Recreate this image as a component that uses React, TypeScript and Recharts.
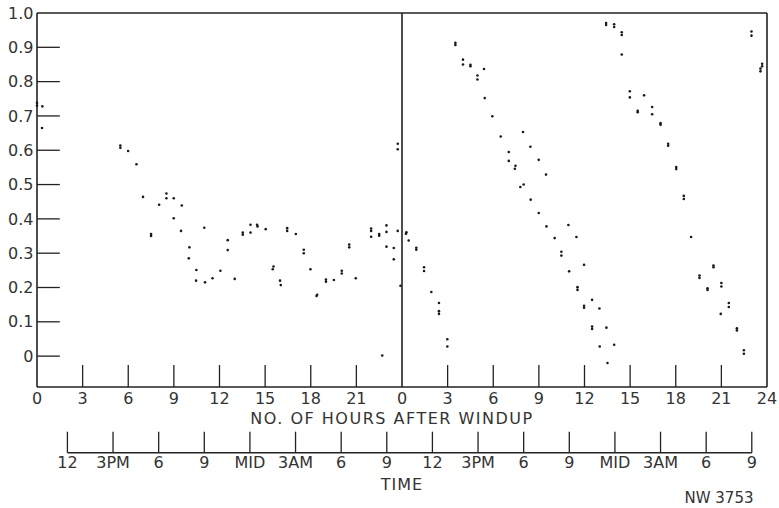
import React from 'react'
import { ScatterChart, Scatter, XAxis, YAxis, ReferenceLine } from 'recharts'

// first 24 h after windup (left panel)
const day1Hours = [
  0, 0, 0.35, 0.33, 5.48, 5.48, 5.99, 6.54, 6.97, 7.5, 7.5, 8.03, 8.51, 8.51, 8.99, 8.99,
  9.52, 9.47, 10.02, 9.98, 10.48, 10.46, 11.0, 11.05, 11.54, 12.06, 12.54, 12.54, 13.0,
  13.53, 13.53, 14.04, 14.04, 14.47, 14.5, 15.04, 15.55, 15.5, 15.98, 16.03, 16.45, 16.45,
  17.02, 17.54, 17.54, 17.98, 18.42, 18.38, 19.0, 19.0, 19.52, 20.04, 20.04, 20.53, 20.53,
  20.96, 21.97, 21.97, 21.97, 22.5, 22.5, 22.98, 22.98, 22.98, 23.46, 23.46, 23.72, 23.72,
  23.72, 22.7, 23.9,
]
const day1Values = [
  0.738, 0.73, 0.728, 0.665, 0.614, 0.607, 0.598, 0.559, 0.464, 0.356, 0.35, 0.441, 0.474,
  0.46, 0.46, 0.402, 0.439, 0.365, 0.317, 0.285, 0.251, 0.22, 0.374, 0.215, 0.227, 0.249,
  0.338, 0.309, 0.225, 0.36, 0.354, 0.383, 0.36, 0.383, 0.378, 0.37, 0.261, 0.253, 0.22,
  0.207, 0.373, 0.365, 0.356, 0.31, 0.3, 0.253, 0.179, 0.175, 0.223, 0.217, 0.222, 0.249,
  0.241, 0.325, 0.317, 0.227, 0.372, 0.365, 0.348, 0.356, 0.351, 0.381, 0.362, 0.319, 0.315,
  0.282, 0.365, 0.619, 0.603, 0.002, 0.205,
]

// second 24 h (right panel)
const day2Hours = [
  0.29, 0.26, 0.44, 0.94, 0.94, 1.45, 1.45, 1.93, 2.43, 2.43, 2.43, 2.98, 2.98, 3.51, 3.51,
  4.01, 4.01, 4.5, 4.5, 5.39, 4.96, 4.96, 5.44, 5.94, 6.49, 7.02, 7.02, 7.46, 7.42, 7.96,
  8.44, 8.99, 9.47, 8.0, 7.78, 8.46, 8.99, 9.5, 10.04, 10.94, 11.47, 10.48, 10.48, 10.99,
  11.97, 11.54, 11.54, 11.97, 11.97, 12.5, 12.98, 12.5, 12.5, 13.44, 13.0, 13.95, 13.51,
  13.42, 13.42, 13.95, 13.95, 14.45, 14.45, 14.45, 14.98, 14.98, 15.92, 15.5, 15.5, 16.45,
  16.45, 17.0, 17.0, 17.5, 17.5, 18.03, 18.03, 18.53, 18.53, 19.01, 19.56, 19.56, 20.48,
  20.48, 20.09, 20.09, 21.0, 21.0, 21.49, 21.49, 20.96, 22.02, 22.02, 22.48, 22.48, 22.98,
  22.98, 23.57, 23.57, 23.68, 23.68,
]
const day2Values = [
  0.361, 0.357, 0.337, 0.316, 0.31, 0.259, 0.248, 0.187, 0.155, 0.131, 0.123, 0.049, 0.028,
  0.913, 0.907, 0.864, 0.85, 0.849, 0.845, 0.837, 0.818, 0.806, 0.752, 0.699, 0.64, 0.595,
  0.569, 0.555, 0.546, 0.653, 0.61, 0.572, 0.529, 0.5, 0.493, 0.456, 0.417, 0.378, 0.344,
  0.382, 0.347, 0.304, 0.293, 0.247, 0.266, 0.201, 0.193, 0.147, 0.141, 0.164, 0.139, 0.086,
  0.079, 0.083, 0.028, 0.033, -0.02, 0.971, 0.965, 0.967, 0.959, 0.944, 0.936, 0.879, 0.772,
  0.754, 0.76, 0.715, 0.711, 0.726, 0.705, 0.679, 0.674, 0.619, 0.613, 0.551, 0.545, 0.467,
  0.458, 0.347, 0.235, 0.228, 0.264, 0.259, 0.198, 0.193, 0.213, 0.203, 0.155, 0.143, 0.123,
  0.081, 0.075, 0.017, 0.007, 0.946, 0.934, 0.838, 0.83, 0.852, 0.845,
]

const hourTicks = [0, 3, 6, 9, 12, 15, 18, 21, 24, 27, 30, 33, 36, 39, 42, 45, 48]
const valueTicks = [0, 0.1, 0.2, 0.3, 0.4, 0.5, 0.6, 0.7, 0.8, 0.9, 1.0]
const timeTicks = [2, 5, 8, 11, 14, 17, 20, 23, 26, 29, 32, 35, 38, 41, 44, 47]
const timeLabels = ['12', '3PM', '6', '9', 'MID', '3AM', '6', '9', '12', '3PM', '6', '9', 'MID', '3AM', '6', '9']

const points = [
  ...day1Hours.map((h, i) => ({ hour: h, value: day1Values[i] })),
  ...day2Hours.map((h, i) => ({ hour: h + 24, value: day2Values[i] })),
]

const ink = '#222'
const font = { fontSize: 16, fill: '#333', fontFamily: 'DejaVu Sans' }
const Y_BOTTOM = -0.09
const TIME_LINE = -0.2816
const TIME_TICK_TOP = -0.2203

const Dot = (props: any) => <circle cx={props.cx} cy={props.cy} r={1.3} fill="#1a1a1a" />

export default function App() {
  const textStyle: React.CSSProperties = {
    position: 'absolute',
    fontFamily: 'DejaVu Sans',
    fontSize: 16,
    lineHeight: '16px',
    color: '#333',
    whiteSpace: 'nowrap',
    transform: 'translateX(-50%)',
  }
  return (
    <div style={{ position: 'absolute', left: 0, top: 0, width: 779, height: 508, background: '#fff' }}>
      <ScatterChart width={779} height={508} margin={{ top: 13, right: 12, bottom: 26, left: 0 }}>
        <XAxis
          type="number"
          dataKey="hour"
          domain={[0, 48]}
          ticks={hourTicks}
          interval={0}
          tickFormatter={(v: number) => (v === 48 ? '24' : String(v % 24))}
          height={65}
          tickSize={4}
          tickMargin={2}
          tickLine={false}
          axisLine={{ stroke: ink, strokeWidth: 1.6 }}
          tick={font}
        />
        {/* clock-time labels; no series uses this axis, so its domain is fixed */}
        <XAxis
          xAxisId="time"
          type="number"
          dataKey="hour"
          domain={[0, 48]}
          allowDataOverflow
          ticks={timeTicks}
          interval={0}
          tickFormatter={(v: number) => timeLabels[timeTicks.indexOf(v)]}
          height={30}
          tickSize={4}
          tickMargin={1}
          tickLine={false}
          axisLine={false}
          tick={font}
        />
        <YAxis
          type="number"
          dataKey="value"
          domain={[Y_BOTTOM, 1]}
          ticks={valueTicks}
          interval={0}
          tickFormatter={(v: number) => (v === 0 ? '0' : v.toFixed(1))}
          width={37}
          tickSize={1}
          tickMargin={2.5}
          tickLine={false}
          axisLine={{ stroke: ink, strokeWidth: 1.6 }}
          tick={font}
        />

        {/* frame and divider between the two days */}
        <ReferenceLine y={1} stroke={ink} strokeWidth={1.6} />
        <ReferenceLine x={48} stroke={ink} strokeWidth={1.6} />
        <ReferenceLine x={24} stroke={ink} strokeWidth={1.6} />

        {/* inward tick marks */}
        {valueTicks.slice(0, 10).map((v) => (
          <ReferenceLine key={'y' + v} segment={[{ x: 0, y: v }, { x: 1.5, y: v }]} stroke={ink} strokeWidth={1.3} />
        ))}
        {hourTicks.filter((h) => h % 24 !== 0).map((h) => (
          <ReferenceLine key={'x' + h} segment={[{ x: h, y: Y_BOTTOM }, { x: h, y: -0.026 }]} stroke={ink} strokeWidth={1.3} />
        ))}

        {/* clock time scale */}
        <ReferenceLine
          segment={[{ x: timeTicks[0], y: TIME_LINE }, { x: timeTicks[timeTicks.length - 1], y: TIME_LINE }]}
          stroke={ink}
          strokeWidth={1.3}
          ifOverflow="visible"
        />
        {timeTicks.map((t) => (
          <ReferenceLine
            key={'t' + t}
            segment={[{ x: t, y: TIME_LINE }, { x: t, y: TIME_TICK_TOP }]}
            stroke={ink}
            strokeWidth={1.3}
            ifOverflow="visible"
          />
        ))}

        <Scatter data={points} shape={Dot} isAnimationActive={false} />
      </ScatterChart>

      <div style={{ ...textStyle, left: 392, top: 411, letterSpacing: 1.5 }}>NO. OF HOURS AFTER WINDUP</div>
      <div style={{ ...textStyle, left: 402, top: 477, letterSpacing: 1 }}>TIME</div>
      <div style={{ ...textStyle, left: 719, top: 490, fontSize: 15 }}>NW 3753</div>
    </div>
  )
}
